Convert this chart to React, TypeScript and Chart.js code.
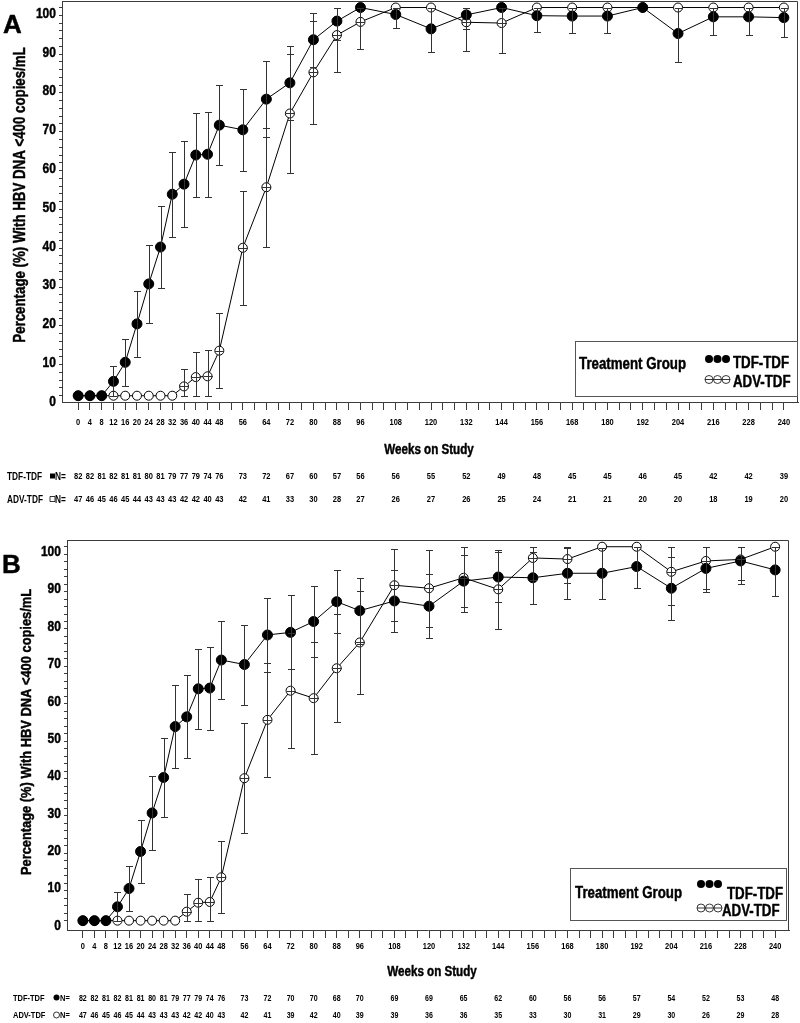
import React, { useEffect, useRef } from "react";
import { Chart, registerables } from "chart.js";

Chart.register(...registerables);

// ---------------- data ----------------
const WEEKS = [0, 4, 8, 12, 16, 20, 24, 28, 32, 36, 40, 44, 48, 56, 64, 72, 80, 88, 96, 108, 120, 132, 144, 156, 168, 180, 192, 204, 216, 228, 240];
const X_TICKS = Array.from({ length: 61 }, (_, i) => i * 4); // tick marks every 4 weeks
const Y_TICKS = Array.from({ length: 51 }, (_, i) => i * 2); // minor ticks every 2 %
const Y_LABELS = [0, 10, 20, 30, 40, 50, 60, 70, 80, 90, 100];

// Panel A
const A_TDF = [0, 0, 0, 3.7, 8.6, 18.5, 28.8, 38.3, 51.9, 54.5, 62.0, 62.2, 69.7, 68.5, 76.4, 80.6, 91.7, 96.5, 100, 98.2, 94.5, 98.1, 100, 97.9, 97.8, 97.8, 100, 93.3, 97.6, 97.6, 97.4];
const A_TDF_LO = [null, null, null, 0, 2.5, 10.0, 18.8, 27.7, 40.9, 43.4, 51.3, 51.1, 59.4, 57.8, 66.6, 71.1, 84.7, 91.7, null, 94.7, 88.5, 94.4, null, 93.8, 93.5, 93.5, null, 86.0, 93.0, 93.0, 92.4];
const A_TDF_HI = [null, null, null, 7.7, 14.7, 27.0, 38.7, 48.9, 62.9, 65.7, 72.7, 73.2, 80.1, 79.1, 86.2, 90.1, 98.7, 100, null, 100, 100, 100, null, 100, 100, 100, null, 100, 100, 100, 100];
const A_ADV = [0, 0, 0, 0, 0, 0, 0, 0, 0, 2.4, 4.8, 5.0, 11.6, 38.1, 53.7, 72.7, 83.3, 92.9, 96.3, 100, 100, 96.2, 96.0, 100, 100, 100, 100, 100, 100, 100, 100];
const A_ADV_LO = [null, null, null, null, null, null, null, null, null, 0, 0, 0, 2.0, 23.4, 38.4, 57.5, 70.0, 83.3, 89.2, null, null, 88.8, 88.3, null, null, null, null, null, null, null, null];
const A_ADV_HI = [null, null, null, null, null, null, null, null, null, 7.0, 11.2, 11.8, 21.2, 52.8, 69.0, 87.9, 96.6, 100, 100, null, null, 100, 100, null, null, null, null, null, null, null, null];
const A_N_TDF = [82, 82, 81, 82, 81, 81, 80, 81, 79, 77, 79, 74, 76, 73, 72, 67, 60, 57, 56, 56, 55, 52, 49, 48, 45, 45, 46, 45, 42, 42, 39];
const A_N_ADV = [47, 46, 45, 46, 45, 44, 43, 43, 43, 42, 42, 40, 43, 42, 41, 33, 30, 28, 27, 26, 27, 26, 25, 24, 21, 21, 20, 20, 18, 19, 20];

// Panel B
const B_TDF = [0, 0, 0, 3.7, 8.6, 18.5, 28.8, 38.3, 51.9, 54.5, 62.0, 62.2, 69.7, 68.5, 76.4, 77.1, 80.0, 85.3, 82.9, 85.5, 84.1, 90.8, 91.9, 91.7, 92.9, 92.9, 94.7, 88.9, 94.2, 96.2, 93.8];
const B_TDF_LO = [null, null, null, 0, 2.5, 10.0, 18.8, 27.7, 40.9, 43.4, 51.3, 51.1, 59.4, 57.8, 66.6, 67.3, 70.6, 76.9, 74.1, 77.2, 75.5, 83.8, 85.1, 84.7, 86.1, 86.1, 88.9, 80.5, 87.9, 91.1, 86.9];
const B_TDF_HI = [null, null, null, 7.7, 14.7, 27.0, 38.7, 48.9, 62.9, 65.7, 72.7, 73.2, 80.1, 79.1, 86.2, 87.0, 89.4, 93.7, 91.7, 93.8, 92.7, 97.8, 98.7, 98.7, 99.6, 99.6, 100, 97.3, 100, 100, 100];
const B_ADV = [0, 0, 0, 0, 0, 0, 0, 0, 0, 2.4, 4.8, 5.0, 11.6, 38.1, 53.7, 61.5, 59.5, 67.5, 74.4, 89.7, 88.9, 91.7, 88.6, 97.0, 96.7, 100, 100, 93.3, 96.2, 96.6, 100];
const B_ADV_LO = [null, null, null, null, null, null, null, null, null, 0, 0, 0, 2.0, 23.4, 38.4, 46.3, 44.7, 53.0, 60.7, 80.2, 78.6, 82.6, 78.1, 91.2, 90.2, null, null, 84.4, 88.8, 90.0, null];
const B_ADV_HI = [null, null, null, null, null, null, null, null, null, 7.0, 11.2, 11.8, 21.2, 52.8, 69.0, 76.8, 74.4, 82.0, 88.1, 99.3, 99.2, 100, 99.1, 100, 100, null, null, 100, 100, 100, null];
const B_N_TDF = [82, 82, 81, 82, 81, 81, 80, 81, 79, 77, 79, 74, 76, 73, 72, 70, 70, 68, 70, 69, 69, 65, 62, 60, 56, 56, 57, 54, 52, 53, 48];
const B_N_ADV = [47, 46, 45, 46, 45, 44, 43, 43, 43, 42, 42, 40, 43, 42, 41, 39, 42, 40, 39, 39, 36, 36, 35, 33, 30, 31, 29, 30, 26, 29, 28];

const Y_TITLE = "Percentage (%) With HBV DNA <400 copies/mL";
const X_TITLE = "Weeks on Study";
const LEGEND_TITLE = "Treatment Group";
const GROUPS = ["TDF-TDF", "ADV-TDF"];

// ---------------- styling ----------------
const FAMILY = "'Liberation Sans',Arial,Helvetica,sans-serif";
const NARROW_X = 0.83; // horizontal compression to imitate a narrow bold face
const AXIS = "#3c3c3c";

type Num = number | null;
interface Spec {
  letter: string;
  height: number;
  tdf: number[]; tdfLo: Num[]; tdfHi: Num[];
  adv: number[]; advLo: Num[]; advHi: Num[];
  nTdf: number[]; nAdv: number[];
  yMin: number; yMax: number;
  padding: { left: number; top: number; right: number; bottom: number };
  yWidth: number;
  yLabelOffset: number;
  xLabelY: number;
  letterPos: [number, number];
  yTitle: [number, number, number];
  xTitle: [number, number];
  rows: [number, number];
  rowLabelX: number; rowMarkX: number; rowNX: number; rowLabelSize: number; rowNumSize: number;
  squareMarks: boolean;
  legend: {
    box: [number, number, number, number];
    tg: [number, number];
    dotX: number; dotY: [number, number];
    textX: [number, number]; textY: [number, number];
    size: number;
  };
}

const PANEL_A: Spec = {
  letter: "A", height: 515,
  tdf: A_TDF, tdfLo: A_TDF_LO, tdfHi: A_TDF_HI,
  adv: A_ADV, advLo: A_ADV_LO, advHi: A_ADV_HI,
  nTdf: A_N_TDF, nAdv: A_N_ADV,
  yMin: -1.62, yMax: 101.68,
  padding: { left: 0, top: 1, right: 2, bottom: 73 },
  yWidth: 62, yLabelOffset: 5, xLabelY: 422,
  letterPos: [12.5, 24],
  yTitle: [19, 195, 16],
  xTitle: [429, 449],
  rows: [476, 499],
  rowLabelX: 7, rowMarkX: 52.5, rowNX: 55, rowLabelSize: 10, rowNumSize: 9,
  squareMarks: true,
  legend: {
    box: [575, 341, 222, 55],
    tg: [579, 363],
    dotX: 709, dotY: [359, 379.5],
    textX: [733, 733], textY: [362, 381.5],
    size: 16,
  },
};

const PANEL_B: Spec = {
  letter: "B", height: 508,
  tdf: B_TDF, tdfLo: B_TDF_LO, tdfHi: B_TDF_HI,
  adv: B_ADV, advLo: B_ADV_LO, advHi: B_ADV_HI,
  nTdf: B_N_TDF, nAdv: B_N_ADV,
  yMin: -2.5, yMax: 101.8,
  padding: { left: 0, top: 25, right: 11, bottom: 53 },
  yWidth: 67, yLabelOffset: 4, xLabelY: 431,
  letterPos: [11.5, 49],
  yTitle: [25, 217, 15.5],
  xTitle: [432, 456],
  rows: [482.5, 500],
  rowLabelX: 13, rowMarkX: 56.5, rowNX: 60, rowLabelSize: 9, rowNumSize: 8.5,
  squareMarks: false,
  legend: {
    box: [570, 353, 216, 52],
    tg: [575, 377],
    dotX: 701, dotY: [369, 393],
    textX: [727, 722], textY: [378, 395],
    size: 16,
  },
};

function txt(ctx: CanvasRenderingContext2D, s: string, x: number, cy: number, size: number, align: CanvasTextAlign = "left", sx = NARROW_X) {
  ctx.save();
  ctx.translate(x, cy + size * 0.36);
  ctx.scale(sx, 1);
  ctx.font = `bold ${size}px ${FAMILY}`;
  ctx.textAlign = align;
  ctx.textBaseline = "alphabetic";
  ctx.fillStyle = "#000";
  ctx.fillText(s, 0, 0);
  if (size >= 12) {
    ctx.strokeStyle = "#000";
    ctx.lineWidth = 0.45;
    ctx.lineJoin = "round";
    ctx.strokeText(s, 0, 0);
  }
  ctx.restore();
}

function makePlugin(spec: Spec) {
  return {
    id: "panelDecor" + spec.letter,
    afterDatasetsDraw(chart: any) {
      const ctx: CanvasRenderingContext2D = chart.ctx;
      const xs = chart.scales.x;
      const ys = chart.scales.y;
      ctx.save();
      ctx.strokeStyle = "#333";
      ctx.lineWidth = 1;
      const groups: [Num[], Num[], number[], boolean][] = [
        [spec.tdfLo, spec.tdfHi, spec.tdf, false],
        [spec.advLo, spec.advHi, spec.adv, true],
      ];
      groups.forEach(([lo, hi, mid, open]) => {
        WEEKS.forEach((w, i) => {
          const l = lo[i];
          const h = hi[i];
          if (l == null || h == null) return;
          const px = Math.round(xs.getPixelForValue(w)) + 0.5;
          const pl = Math.round(ys.getPixelForValue(l)) + 0.5;
          const ph = Math.round(ys.getPixelForValue(h)) + 0.5;
          ctx.beginPath();
          ctx.moveTo(px, pl); ctx.lineTo(px, ph);
          ctx.moveTo(px - 3.5, pl); ctx.lineTo(px + 3.5, pl);
          ctx.moveTo(px - 3.5, ph); ctx.lineTo(px + 3.5, ph);
          if (open) {
            const pm = Math.round(ys.getPixelForValue(mid[i])) + 0.5;
            ctx.moveTo(px - 4.5, pm); ctx.lineTo(px + 4.5, pm);
          }
          ctx.stroke();
        });
      });
      ctx.restore();
    },
    afterDraw(chart: any) {
      const ctx: CanvasRenderingContext2D = chart.ctx;
      const a = chart.chartArea;
      const xs = chart.scales.x;
      const ys = chart.scales.y;
      ctx.save();
      // frame (top & right)
      ctx.strokeStyle = AXIS;
      ctx.lineWidth = 1;
      ctx.beginPath();
      ctx.moveTo(Math.round(a.left) + 0.5, Math.round(a.top) + 0.5);
      ctx.lineTo(Math.round(a.right) - 0.5, Math.round(a.top) + 0.5);
      ctx.lineTo(Math.round(a.right) - 0.5, Math.round(a.bottom) + 0.5);
      ctx.stroke();

      // tick labels, placed by the chart's own scales
      WEEKS.forEach((w) => txt(ctx, String(w), xs.getPixelForValue(w), spec.xLabelY, 9, "center"));
      Y_LABELS.forEach((v) => txt(ctx, String(v), a.left - 6, ys.getPixelForValue(v) + spec.yLabelOffset, 14.5, "right"));

      // panel letter
      txt(ctx, spec.letter, spec.letterPos[0], spec.letterPos[1], 26, "center", 1);

      // y title
      ctx.save();
      ctx.translate(spec.yTitle[0], spec.yTitle[1]);
      ctx.rotate(-Math.PI / 2);
      txt(ctx, Y_TITLE, 0, 0, spec.yTitle[2], "center");
      ctx.restore();

      // x title
      txt(ctx, X_TITLE, spec.xTitle[0], spec.xTitle[1], 14, "center");

      // N table
      [spec.nTdf, spec.nAdv].forEach((arr, r) => {
        const y = spec.rows[r];
        txt(ctx, GROUPS[r], spec.rowLabelX, y, spec.rowLabelSize, "left");
        ctx.strokeStyle = "#000";
        ctx.fillStyle = "#000";
        ctx.lineWidth = 0.8;
        ctx.beginPath();
        if (spec.squareMarks) {
          ctx.rect(spec.rowMarkX - 2.5, y - 2.5, 5, 5);
        } else {
          ctx.arc(spec.rowMarkX, y, 3, 0, Math.PI * 2);
        }
        if (r === 0) ctx.fill(); else ctx.stroke();
        txt(ctx, "N=", spec.rowNX, y, spec.rowLabelSize, "left");
        arr.forEach((n, i) => {
          txt(ctx, String(n), xs.getPixelForValue(WEEKS[i]), y, spec.rowNumSize, "center");
        });
      });

      // legend box
      const L = spec.legend;
      ctx.strokeStyle = "#555";
      ctx.lineWidth = 1;
      ctx.strokeRect(L.box[0] + 0.5, L.box[1] + 0.5, L.box[2], L.box[3]);
      txt(ctx, LEGEND_TITLE, L.tg[0], L.tg[1], L.size, "left");
      for (let k = 0; k < 3; k++) {
        const cx = L.dotX + k * 8.5;
        ctx.beginPath();
        ctx.arc(cx, L.dotY[0], 4, 0, Math.PI * 2);
        ctx.fillStyle = "#000";
        ctx.fill();
        ctx.beginPath();
        ctx.arc(cx, L.dotY[1], 4, 0, Math.PI * 2);
        ctx.strokeStyle = "#222";
        ctx.lineWidth = 0.9;
        ctx.stroke();
      }
      ctx.beginPath();
      ctx.moveTo(L.dotX - 4, L.dotY[1]);
      ctx.lineTo(L.dotX + 21, L.dotY[1]);
      ctx.stroke();
      txt(ctx, GROUPS[0], L.textX[0], L.textY[0], L.size, "left");
      txt(ctx, GROUPS[1], L.textX[1], L.textY[1], L.size, "left");
      ctx.restore();
    },
  };
}

function makeConfig(spec: Spec): any {
  const toPts = (arr: number[]) => WEEKS.map((w, i) => ({ x: w, y: arr[i] }));
  return {
    type: "line",
    data: {
      datasets: [
        {
          label: GROUPS[0],
          data: toPts(spec.tdf),
          borderColor: "#000",
          borderWidth: 1,
          pointRadius: 5,
          pointBackgroundColor: "#000",
          pointBorderColor: "#000",
          pointBorderWidth: 1,
          tension: 0,
          clip: false,
        },
        {
          label: GROUPS[1],
          data: toPts(spec.adv),
          borderColor: "#000",
          borderWidth: 1,
          pointRadius: 4.5,
          pointBackgroundColor: "#fff",
          pointBorderColor: "#000",
          pointBorderWidth: 1,
          tension: 0,
          clip: false,
        },
      ],
    },
    options: {
      animation: false,
      responsive: false,
      devicePixelRatio: 1,
      layout: { padding: spec.padding, autoPadding: false },
      plugins: { legend: { display: false }, tooltip: { enabled: false } },
      scales: {
        x: {
          type: "linear",
          min: -5.5,
          max: 244.8,
          afterBuildTicks: (s: any) => { s.ticks = X_TICKS.map((v) => ({ value: v })); },
          afterFit: (s: any) => { s.height = 40; },
          ticks: { display: false, autoSkip: false, maxRotation: 0, minRotation: 0 },
          grid: { drawOnChartArea: false, drawTicks: true, tickLength: 8, color: AXIS, tickColor: AXIS },
          border: { display: true, color: AXIS, width: 1 },
        },
        y: {
          type: "linear",
          min: spec.yMin,
          max: spec.yMax,
          afterBuildTicks: (s: any) => { s.ticks = Y_TICKS.map((v) => ({ value: v })); },
          afterFit: (s: any) => { s.width = spec.yWidth; },
          ticks: { display: false, autoSkip: false },
          grid: { drawOnChartArea: false, drawTicks: true, tickLength: 3, color: AXIS, tickColor: AXIS },
          border: { display: true, color: AXIS, width: 1 },
        },
      },
    },
    plugins: [makePlugin(spec)],
  };
}

function Panel({ spec }: { spec: Spec }) {
  const ref = useRef<HTMLCanvasElement>(null);
  useEffect(() => {
    const chart = new Chart(ref.current as HTMLCanvasElement, makeConfig(spec));
    return () => chart.destroy();
  }, [spec]);
  return (
    <canvas
      ref={ref}
      width={800}
      height={spec.height}
      style={{ display: "block", width: 800, height: spec.height }}
    />
  );
}

export default function App() {
  useEffect(() => {
    document.body.style.margin = "0";
  }, []);
  return (
    <div style={{ position: "absolute", left: 0, top: 0, width: 800, height: 1023, background: "#fff" }}>
      <Panel spec={PANEL_A} />
      <Panel spec={PANEL_B} />
    </div>
  );
}
